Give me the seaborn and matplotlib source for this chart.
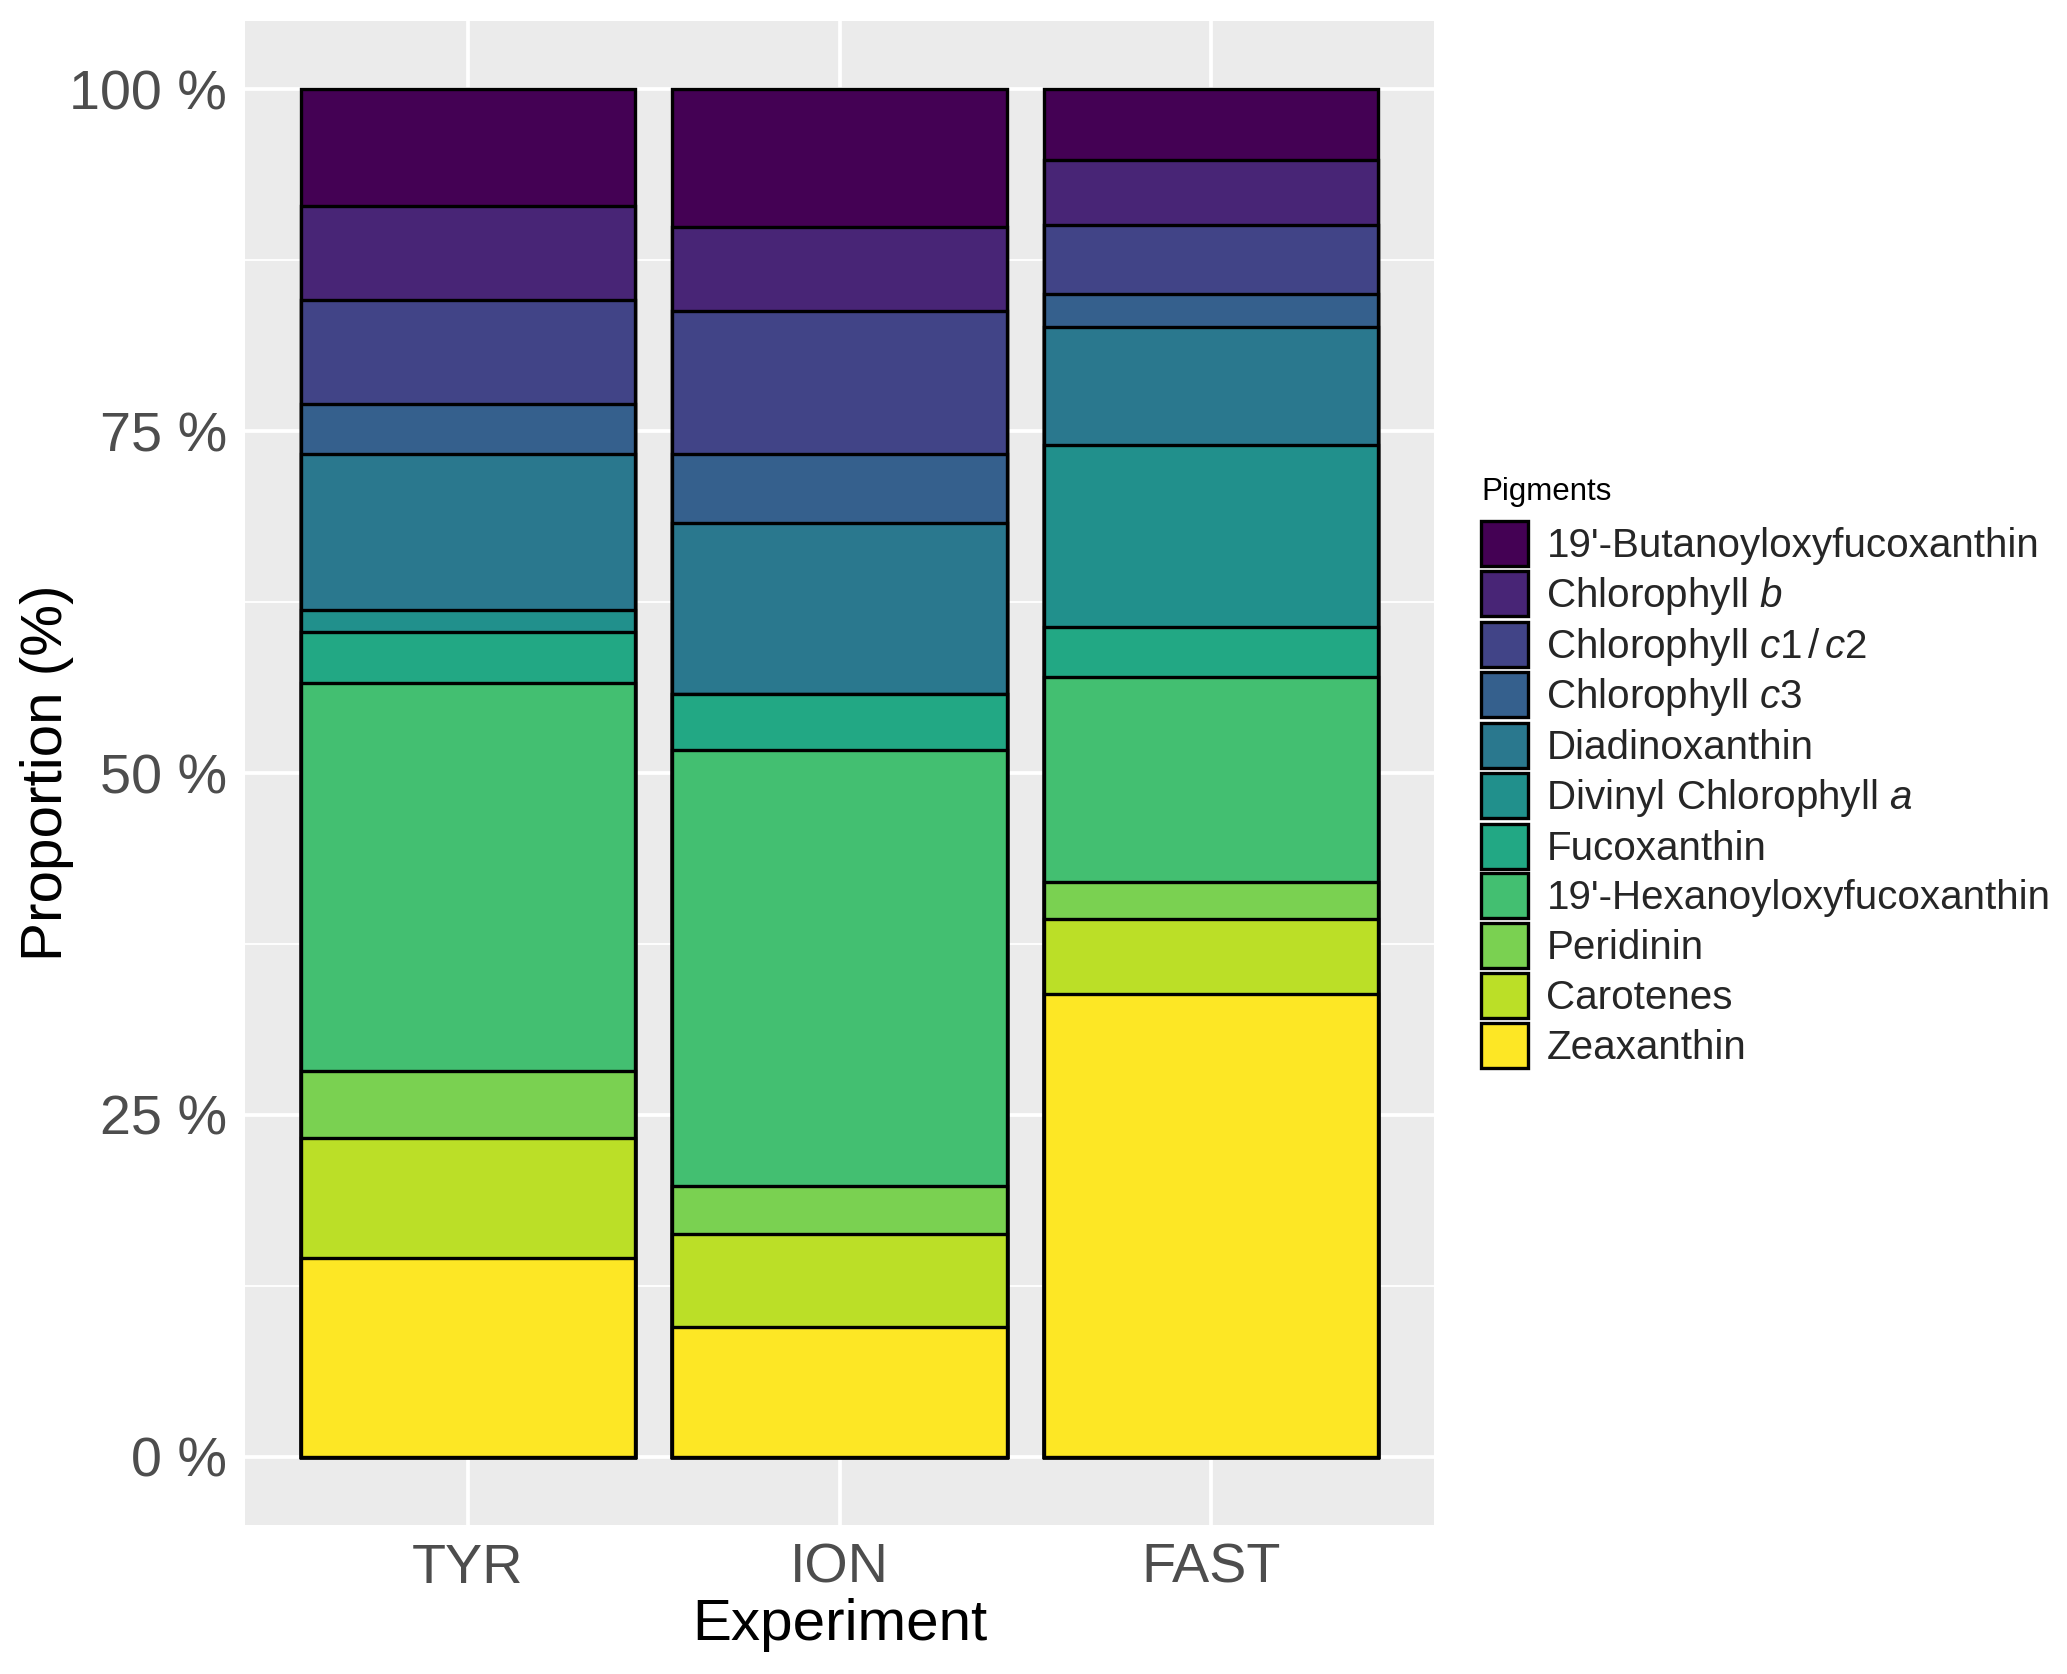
import numpy as np
import pandas as pd
import matplotlib
matplotlib.use("Agg")
import matplotlib.pyplot as plt
from matplotlib.patches import Patch
from matplotlib.ticker import FixedLocator
import seaborn as sns

# ---------------- data ----------------
experiments = ["TYR", "ION", "FAST"]
# legend order (top of stack first)
pigments = ["19'-Butanoyloxyfucoxanthin", "Chlorophyll b", "Chlorophyll c1/c2",
            "Chlorophyll c3", "Diadinoxanthin", "Divinyl Chlorophyll a",
            "Fucoxanthin", "19'-Hexanoyloxyfucoxanthin", "Peridinin",
            "Carotenes", "Zeaxanthin"]
pigment_labels = ["19'-Butanoyloxyfucoxanthin", r"Chlorophyll $\mathit{b}$",
                  r"Chlorophyll $\mathit{c}$1$\,$/$\,\mathit{c}$2",
                  r"Chlorophyll $\mathit{c}$3", "Diadinoxanthin",
                  r"Divinyl Chlorophyll $\mathit{a}$", "Fucoxanthin",
                  "19'-Hexanoyloxyfucoxanthin", "Peridinin", "Carotenes", "Zeaxanthin"]
# proportions (%) per pigment, same order as `pigments`
tyr_values  = [8.5, 6.9, 7.6, 3.7, 11.4, 1.6, 3.7, 28.4, 4.9, 8.8, 14.5]
ion_values  = [10.1, 6.1, 10.5, 5.0, 12.5, 0.0, 4.1, 31.9, 3.5, 6.8, 9.5]
fast_values = [5.2, 4.7, 5.1, 2.4, 8.6, 13.3, 3.7, 15.0, 2.7, 5.5, 33.8]
y_ticks = [0, 25, 50, 75, 100]
y_tick_labels = ["0 %", "25 %", "50 %", "75 %", "100 %"]

colors = ["#440154", "#482576", "#414487", "#35608D", "#2A788E", "#21908C",
          "#22A884", "#43BF71", "#7AD151", "#BBDF27", "#FDE725"]

# ---------------- style ----------------
sns.set_theme(style="darkgrid")
plt.rcParams["font.family"] = ["Liberation Sans", "DejaVu Sans"]
plt.rcParams["mathtext.fontset"] = "custom"
plt.rcParams["mathtext.rm"] = "Liberation Sans"
plt.rcParams["mathtext.it"] = "Liberation Sans:italic"
plt.rcParams["mathtext.bf"] = "Liberation Sans:bold"

df = pd.DataFrame({"Experiment": np.repeat(experiments, len(pigments)),
                   "Pigment": pigments * len(experiments),
                   "Value": tyr_values + ion_values + fast_values})
df["Prop"] = df["Value"] / df.groupby("Experiment")["Value"].transform("sum") * 100
# cumulative from the bottom (last pigment) upward
df["idx"] = df["Pigment"].map({p: i for i, p in enumerate(pigments)})
df = df.sort_values(["Experiment", "idx"], ascending=[True, False])
df["Cum"] = df.groupby("Experiment")["Prop"].cumsum()

W, H = 2067, 1674
fig = plt.figure(figsize=(W / 300, H / 300), dpi=300)
L, R, T, B = 245, 1434, 21, 1525
ax = fig.add_axes([L / W, 1 - B / H, (R - L) / W, (B - T) / H])
ax.set_facecolor("#EBEBEB")

for i, p in enumerate(pigments):
    sub = df[df["Pigment"] == p]
    sns.barplot(data=sub, x="Experiment", y="Cum", order=experiments,
                color=colors[i], saturation=1, width=0.9, edgecolor="black",
                linewidth=0.8, ax=ax, errorbar=None, zorder=3)

ax.set_xlim(-0.6, 2.6)
ax.set_ylim(-5, 105)
ax.yaxis.set_major_locator(FixedLocator(y_ticks))
ax.set_yticklabels(y_tick_labels)
ax.yaxis.set_minor_locator(FixedLocator([12.5, 37.5, 62.5, 87.5]))
ax.grid(which="major", color="white", linewidth=0.9)
ax.grid(which="minor", axis="y", color="white", linewidth=0.45)
ax.set_axisbelow(True)
for s in ax.spines.values():
    s.set_visible(False)
ax.tick_params(axis="both", which="major", length=1.9, width=0.7, color="#333333",
               labelsize=13.4, labelcolor="#4D4D4D", pad=2.4)
ax.tick_params(axis="both", which="minor", length=0)
ax.set_xlabel("Experiment", fontsize=14, color="black", va="baseline")
ax.xaxis.set_label_coords(0.5, -(1640 - B) / (B - T))
ax.set_ylabel("Proportion (%)", fontsize=14, color="black", va="baseline")
ax.yaxis.set_label_coords(-(L - 62) / (R - L), 0.5)

fig.text(1481 / W, 1 - 500 / H, "Pigments", fontsize=7.5, color="black",
         ha="left", va="baseline")
handles = [Patch(facecolor=c, edgecolor="black", linewidth=0.8) for c in colors]
leg = fig.legend(handles, pigment_labels, loc="upper left",
                 bbox_to_anchor=(1481 / W, 1 - 521 / H), frameon=False,
                 fontsize=9.7, handlelength=1.17, handleheight=1.34,
                 labelspacing=0.116, handletextpad=0.45, borderpad=0, borderaxespad=0)

fig.savefig("out.png", dpi=300)
